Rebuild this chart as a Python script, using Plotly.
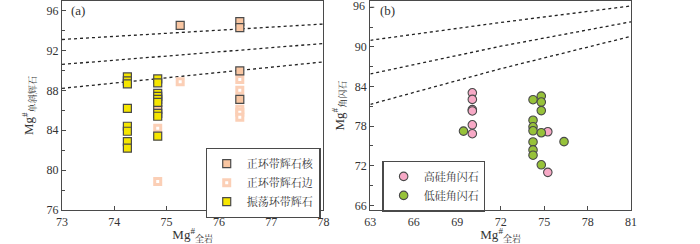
import plotly.graph_objects as go
from plotly.subplots import make_subplots

# (a) clinopyroxene
core_x = [75.26, 76.40, 76.40, 76.40, 76.40, 74.83]
core_y = [94.52, 94.90, 94.28, 89.95, 87.10, 86.10]
rim_x = [75.26, 76.40, 76.40, 76.40, 76.40, 76.40, 74.83, 74.83, 74.83]
rim_y = [88.85, 89.10, 88.00, 86.10, 85.80, 85.30, 86.40, 84.20, 78.85]
osc_x = [74.25, 74.25, 74.25, 74.25, 74.25, 74.25, 74.25, 74.25,
         74.83, 74.83, 74.83, 74.83, 74.83, 74.83, 74.83, 74.83, 74.83]
osc_y = [89.35, 88.95, 88.65, 86.20, 84.40, 83.90, 82.85, 82.20,
         89.15, 88.75, 87.70, 87.40, 87.10, 86.80, 85.70, 85.40, 83.40]

# (b) amphibole
hsi_x = [70.04, 70.04, 70.04, 70.04, 70.04, 70.04, 75.25, 75.25]
hsi_y = [83.05, 82.05, 80.50, 80.30, 78.20, 76.85, 77.15, 71.00]
lsi_x = [69.43, 74.23, 74.23, 74.23, 74.23, 74.23, 74.23, 74.23,
         74.80, 74.80, 74.80, 74.80, 74.80, 76.37]
lsi_y = [77.25, 82.00, 78.90, 77.90, 77.30, 75.60, 74.40, 73.60,
         82.55, 81.65, 80.35, 77.00, 72.15, 75.65]

# equilibrium Kd lines
kd_x_a = [73, 78]
kd_a = [[93.10, 94.65], [90.60, 92.70], [88.20, 90.85]]
kd_x_b = [63, 72, 81]
kd_b = [[91.0, 93.7, 96.2], [85.9, 90.1, 93.8], [81.3, 86.7, 91.6]]

# tick labels
yticks_a = [76, 80, 84, 88, 92, 96]
yticks_b = [66, 72, 78, 84, 90, 96]

SERIF = "Liberation Serif, Times New Roman, Noto Serif CJK SC, Noto Sans CJK SC, serif"
EDGE = "#4a4a4a"

fig = make_subplots(rows=1, cols=2, horizontal_spacing=0.0)

for ys in kd_a:
    fig.add_trace(go.Scatter(x=kd_x_a, y=ys, mode="lines", showlegend=False,
                             line=dict(color="#222", width=1.3, dash="dot")), row=1, col=1)
for ys in kd_b:
    fig.add_trace(go.Scatter(x=kd_x_b, y=ys, mode="lines", showlegend=False,
                             line=dict(color="#222", width=1.3, dash="dot")), row=1, col=2)

fig.add_trace(go.Scatter(
    x=rim_x, y=rim_y, mode="markers", name="正环带辉石边", legend="legend", legendrank=2,
    marker=dict(symbol="square", size=6, color="white", line=dict(color="#fbcfb6", width=3)),
), row=1, col=1)
fig.add_trace(go.Scatter(
    x=core_x, y=core_y, mode="markers", name="正环带辉石核", legend="legend", legendrank=1,
    marker=dict(symbol="square", size=8, color="#f9c6a2", line=dict(color=EDGE, width=1.2)),
), row=1, col=1)
fig.add_trace(go.Scatter(
    x=osc_x, y=osc_y, mode="markers", name="振荡环带辉石", legend="legend", legendrank=3,
    marker=dict(symbol="square", size=8, color="#f6e600", line=dict(color=EDGE, width=1.2)),
), row=1, col=1)

fig.add_trace(go.Scatter(
    x=hsi_x, y=hsi_y, mode="markers", name="高硅角闪石", legend="legend2",
    marker=dict(symbol="circle", size=8.5, color="#f7a9c6", line=dict(color=EDGE, width=1.1)),
), row=1, col=2)
fig.add_trace(go.Scatter(
    x=lsi_x, y=lsi_y, mode="markers", name="低硅角闪石", legend="legend2",
    marker=dict(symbol="circle", size=8.5, color="#97c23a", line=dict(color=EDGE, width=1.1)),
), row=1, col=2)

axis_common = dict(
    showline=True, linecolor=EDGE, linewidth=1.3, mirror=True,
    ticks="inside", ticklen=4, tickwidth=1, tickcolor=EDGE,
    showgrid=False, zeroline=False, ticklabeloverflow="allow",
    tickfont=dict(family=SERIF, size=12, color="#333"),
    title_font=dict(family=SERIF, size=13, color="#333"),
)

fig.update_xaxes(axis_common)
fig.update_yaxes(axis_common)

fig.update_xaxes(domain=[57 / 700, 323 / 700], range=[73, 78], dtick=1,
                 title_text="Mg<sup>#</sup><sub>全岩</sub>", title_standoff=6, row=1, col=1)
fig.update_yaxes(range=[76, 96.96], tickmode="array", tickvals=yticks_a,
                 minor=dict(ticks="inside", ticklen=3, dtick=2, tick0=76, tickcolor=EDGE),
                 title_text="Mg<sup>#</sup><sub>单斜辉石</sub>", title_standoff=9, row=1, col=1)
fig.update_xaxes(domain=[370.7 / 700, 636 / 700], range=[63, 81], dtick=3, tick0=63,
                 title_text="Mg<sup>#</sup><sub>全岩</sub>", title_standoff=6, row=1, col=2)
# the top label (96) is not drawn by plotly this close to the edge, so it is an annotation
fig.update_yaxes(range=[65.3, 96.95], tickmode="array", tickvals=yticks_b[:-1],
                 minor=dict(ticks="inside", ticklen=3, dtick=3, tick0=66, tickcolor=EDGE),
                 title_text="Mg<sup>#</sup><sub>角闪石</sub>", title_standoff=7, row=1, col=2)

legend_common = dict(
    bgcolor="white", bordercolor=EDGE, borderwidth=1.2,
    font=dict(family=SERIF, size=11, color="#333"),
    xanchor="left", yanchor="top", tracegroupgap=0, itemwidth=30,
    traceorder="normal",
)

fig.update_layout(
    width=700, height=244,
    margin=dict(l=0, r=0, t=1, b=31),
    paper_bgcolor="white", plot_bgcolor="white",
    legend=dict(legend_common, x=203 / 700, y=0.297),
    legend2=dict(legend_common, x=383 / 700, y=0.236),
    annotations=[
        dict(text="(a)", x=0.026, y=0.955, xref="x domain", yref="y domain",
             xanchor="left", yanchor="middle", showarrow=False,
             font=dict(family=SERIF, size=13, color="#333")),
        dict(text="(b)", x=0.03, y=0.955, xref="x2 domain", yref="y2 domain",
             xanchor="left", yanchor="middle", showarrow=False,
             font=dict(family=SERIF, size=13, color="#333")),
        dict(text=str(yticks_b[-1]), x=-0.012, y=0.975, xref="x2 domain", yref="y2 domain",
             xanchor="right", yanchor="middle", showarrow=False,
             font=dict(family=SERIF, size=12, color="#333")),
    ],
)
fig.add_shape(type="line", xref="x2 domain", yref="y2", x0=0, x1=0.015,
              y0=yticks_b[-1], y1=yticks_b[-1], line=dict(color=EDGE, width=1))

fig.write_html("out.html", config={"displayModeBar": False},
               post_script="document.body.style.margin='0';")
